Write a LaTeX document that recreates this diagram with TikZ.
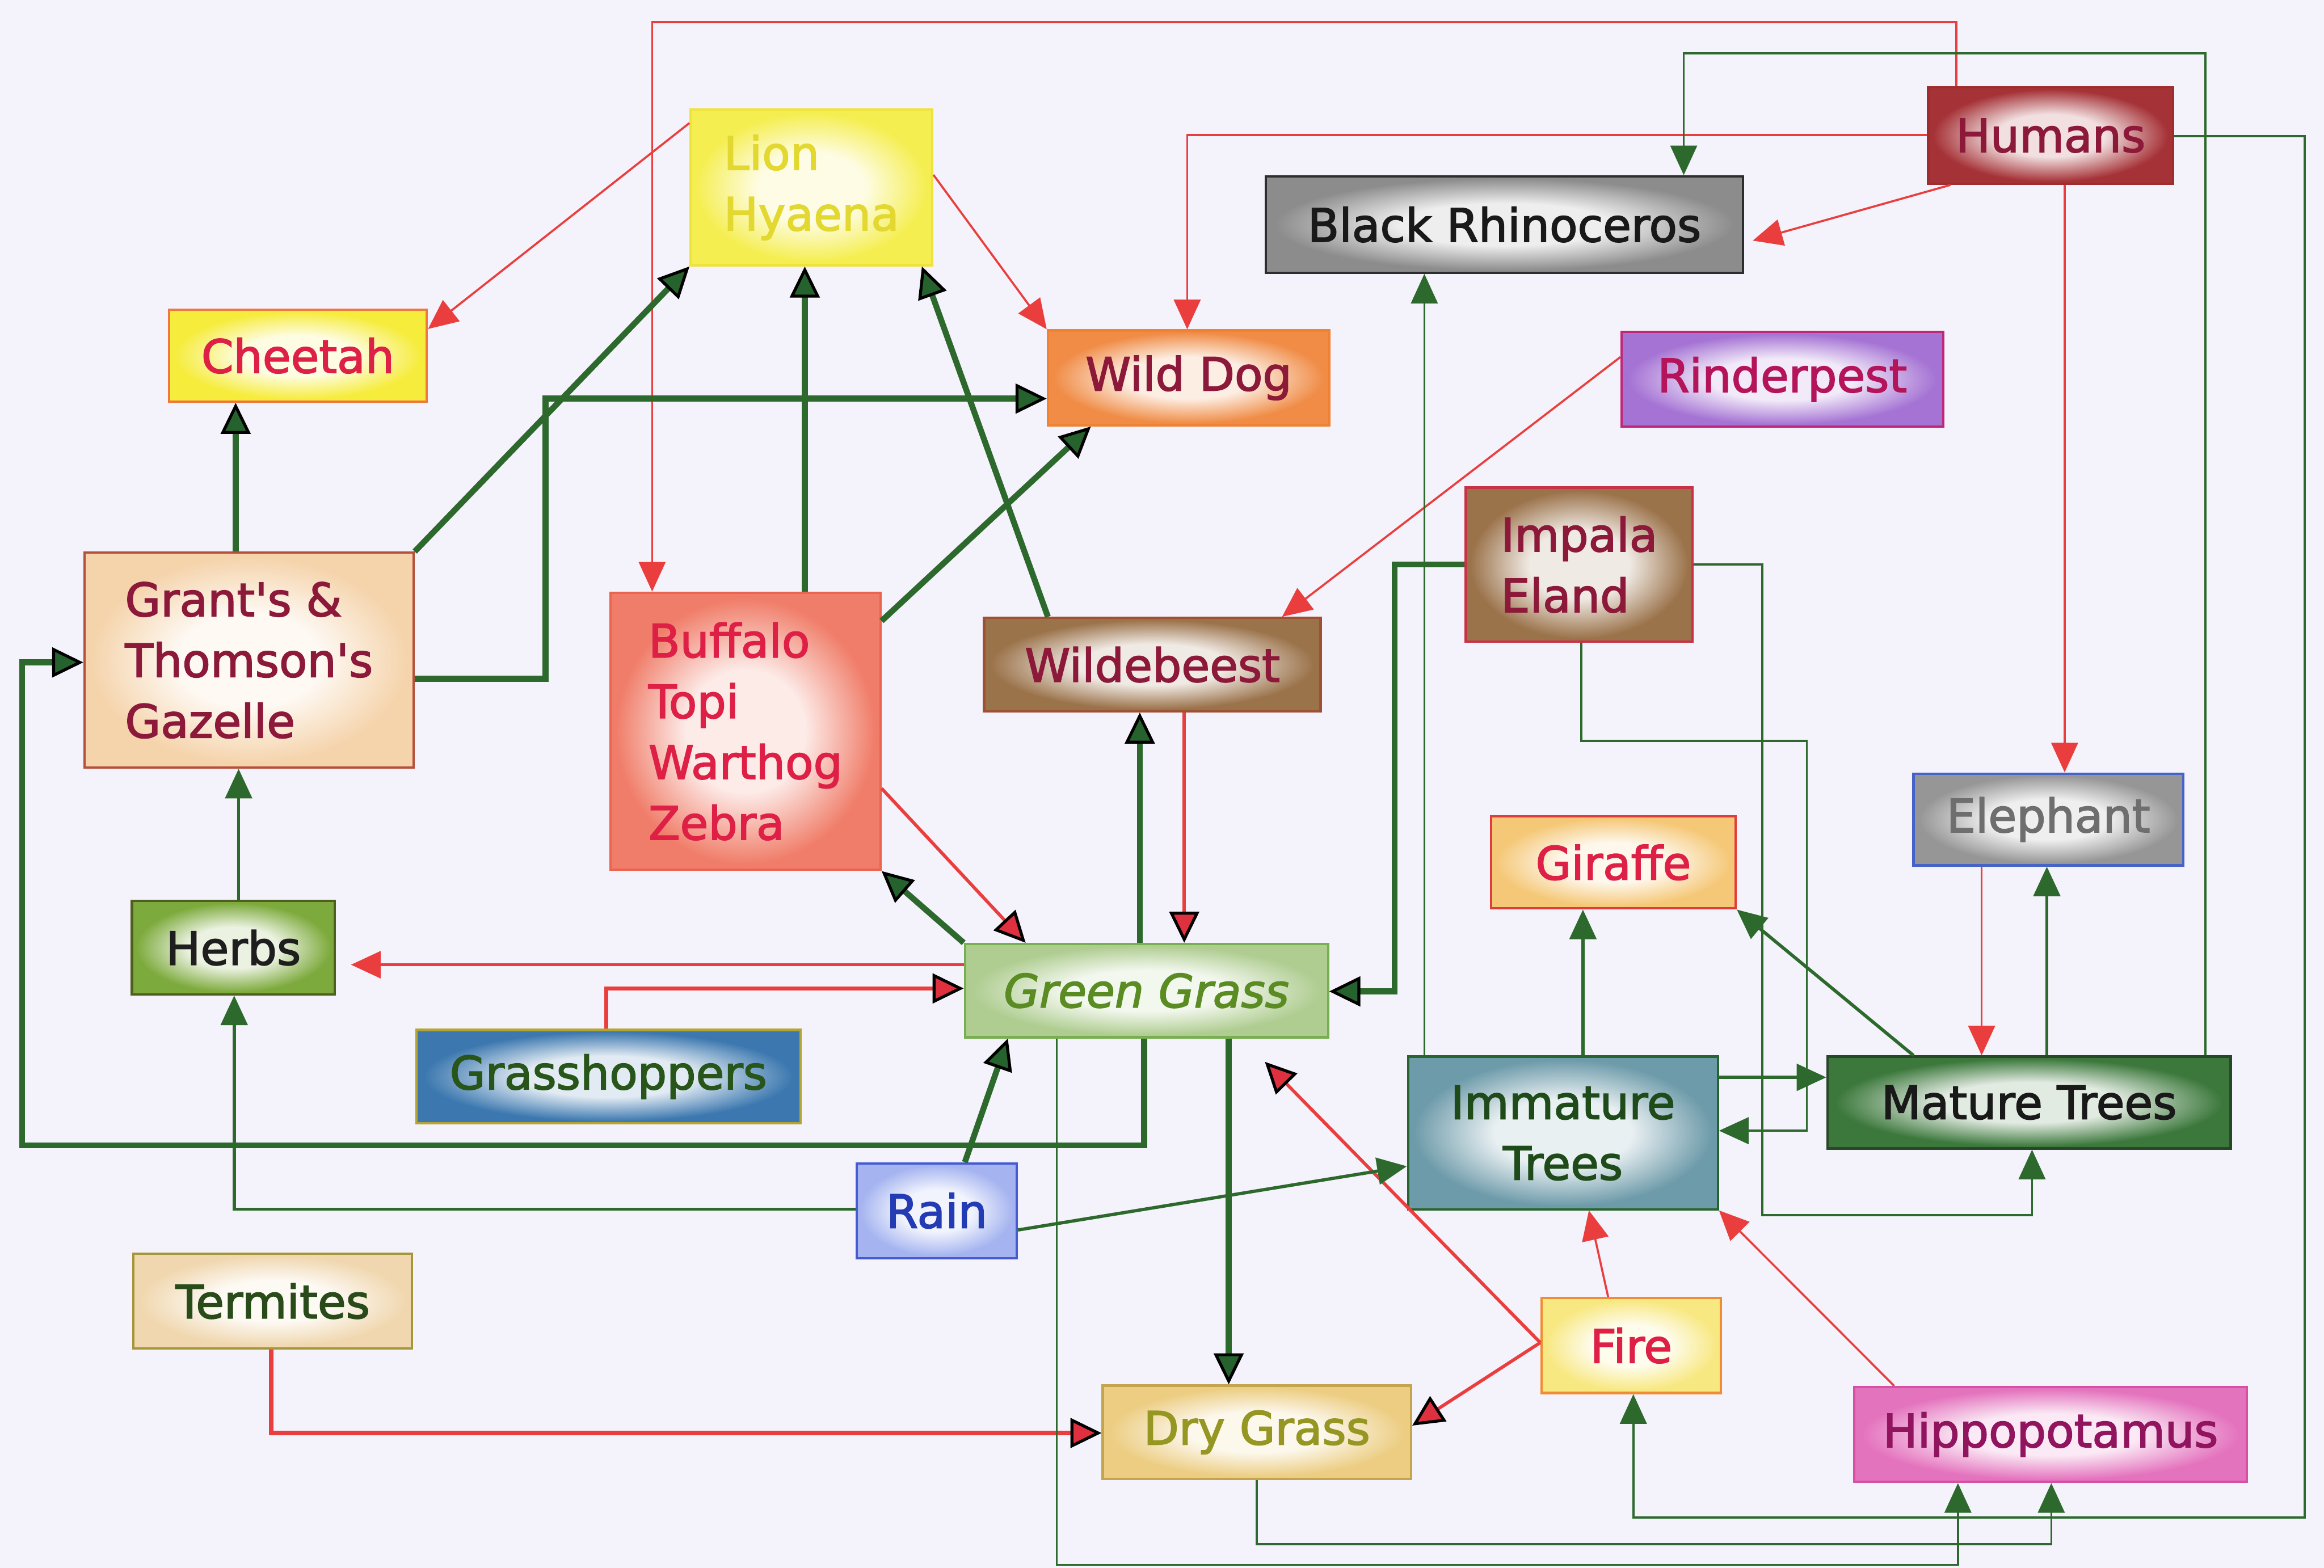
\documentclass[tikz,border=0pt]{standalone}
\usepackage{xcolor}
\usepackage{fontspec}
\usepackage{tikz}
\usetikzlibrary{arrows.meta}

\newfontfamily\boxfont[FakeBold=2.2]{DejaVu Sans}

\definecolor{pagebg}{RGB}{244,242,250}
\definecolor{linegreen}{RGB}{45,105,45}
\definecolor{tipgreen}{RGB}{38,98,45}
\definecolor{linered}{RGB}{234,62,62}
\definecolor{tipred}{RGB}{222,48,62}
\definecolor{maroontext}{RGB}{140,25,58}
\definecolor{crimsontext}{RGB}{222,32,70}
% fills (edge colour of the glow)
\definecolor{lionfill}{RGB}{245,238,80}
\definecolor{cheetahfill}{RGB}{246,236,60}
\definecolor{dogfill}{RGB}{240,140,70}
\definecolor{rhinofill}{RGB}{140,140,140}
\definecolor{humanfill}{RGB}{165,50,55}
\definecolor{rinderfill}{RGB}{165,115,212}
\definecolor{gazellefill}{RGB}{245,212,172}
\definecolor{buffalofill}{RGB}{240,125,105}
\definecolor{beestfill}{RGB}{155,115,75}
\definecolor{giraffefill}{RGB}{245,200,120}
\definecolor{elephantfill}{RGB}{150,150,150}
\definecolor{herbfill}{RGB}{125,170,60}
\definecolor{grassfill}{RGB}{175,205,145}
\definecolor{hopperfill}{RGB}{60,120,175}
\definecolor{youngfill}{RGB}{110,155,170}
\definecolor{maturefill}{RGB}{60,120,60}
\definecolor{rainfill}{RGB}{165,180,240}
\definecolor{termitefill}{RGB}{240,215,175}
\definecolor{firefill}{RGB}{248,232,130}
\definecolor{dryfill}{RGB}{236,205,130}
\definecolor{hippofill}{RGB}{228,115,190}

\pgfdeclareradialshading[glowin,glowout]{glow}{\pgfpoint{0bp}{0bp}}{%
  color(0bp)=(glowin); color(11bp)=(glowin); color(24bp)=(glowout); color(50bp)=(glowout)}

\tikzset{
  box/.style={rectangle, line width=0.8pt, inner sep=1pt,
    font=\boxfont\fontsize{15.5}{20.5}\selectfont},
  glow/.style={/utils/exec={\colorlet{glowout}{#1}\colorlet{glowin}{white!85!#1}},
    shade, shading=glow},
  gthick/.style={draw=linegreen, line width=2pt},
  gmid/.style={draw=linegreen, line width=1.1pt},
  gthin/.style={draw=linegreen, line width=0.7pt},
  rthin/.style={draw=linered, line width=0.7pt},
  rmid/.style={draw=linered, line width=1.1pt},
  rthick/.style={draw=linered, line width=1.4pt},
  arrplain/.style={-{Triangle[length=10pt,width=9pt]}},
  arrgreen/.style={-{Triangle[length=10.5pt,width=10pt,fill=tipgreen,color=black,line width=1pt]}},
  arrred/.style={-{Triangle[length=10.5pt,width=10pt,fill=tipred,color=black,line width=1pt]}},
}

\begin{document}
\begin{tikzpicture}[x=0.5pt,y=0.5pt,yscale=-1,xscale=1]
%page
\fill [pagebg] (0,0) rectangle (1568,1058);
\useasboundingbox (0,0) rectangle (1568,1058);

%Box: Lion, Hyaena
\node [box, draw={rgb,255:red,240;green,226;blue,60}, text={rgb,255:red,226;green,216;blue,48}, glow=lionfill, minimum width=81.5pt, minimum height=52.5pt, align=left] (lion) at (547.5,126.5) {Lion\\Hyaena};
%Box: Cheetah
\node [box, draw={rgb,255:red,240;green,120;blue,60}, text=crimsontext, glow=cheetahfill, minimum width=87pt, minimum height=31pt] (cheetah) at (201,240) {Cheetah};
%Box: Wild Dog
\node [box, draw={rgb,255:red,240;green,130;blue,50}, text=maroontext, glow=dogfill, minimum width=95pt, minimum height=32pt] (wilddog) at (802,255) {Wild Dog};
%Box: Black Rhinoceros
\node [box, draw={rgb,255:red,45;green,45;blue,45}, text={rgb,255:red,25;green,25;blue,25}, glow=rhinofill, minimum width=161pt, minimum height=32.5pt] (rhino) at (1015,151.5) {Black Rhinoceros};
%Box: Humans
\node [box, draw={rgb,255:red,160;green,45;blue,45}, text=maroontext, glow=humanfill, minimum width=82.5pt, minimum height=32.5pt] (humans) at (1383.5,91.5) {Humans};
%Box: Rinderpest
\node [box, draw={rgb,255:red,190;green,40;blue,120}, text={rgb,255:red,180;green,20;blue,90}, glow=rinderfill, minimum width=108.5pt, minimum height=32pt] (rinderpest) at (1202.5,256) {Rinderpest};
%Box: Gazelle
\node [box, draw={rgb,255:red,180;green,80;blue,60}, text=maroontext, glow=gazellefill, minimum width=111pt, minimum height=72.5pt, align=left] (gazelle) at (168,445.5) {Grant's \&\\Thomson's\\Gazelle};
%Box: Buffalo, Topi, Warthog, Zebra
\node [box, draw={rgb,255:red,235;green,100;blue,80}, text=crimsontext, glow=buffalofill, minimum width=91pt, minimum height=93.5pt, align=left] (buffalo) at (503,493.5) {Buffalo\\Topi\\Warthog\\Zebra};
%Box: Wildebeest
\node [box, draw={rgb,255:red,160;green,80;blue,50}, text=maroontext, glow=beestfill, minimum width=113.5pt, minimum height=31.5pt] (wildebeest) at (777.5,448.5) {Wildebeest};
%Box: Impala, Eland
\node [box, draw={rgb,255:red,200;green,50;blue,70}, text=maroontext, glow=beestfill, minimum width=76.5pt, minimum height=52pt, align=left] (impala) at (1065.5,381) {Impala\\Eland};
%Box: Giraffe
\node [box, draw={rgb,255:red,225;green,60;blue,60}, text=crimsontext, glow=giraffefill, minimum width=82.5pt, minimum height=31pt] (giraffe) at (1088.5,582) {Giraffe};
%Box: Elephant
\node [box, draw={rgb,255:red,70;green,100;blue,200}, text={rgb,255:red,110;green,110;blue,110}, glow=elephantfill, minimum width=91pt, minimum height=31pt] (elephant) at (1382,553) {Elephant};
%Box: Herbs
\node [box, draw={rgb,255:red,80;green,95;blue,30}, text={rgb,255:red,30;green,30;blue,30}, glow=herbfill, minimum width=68.5pt, minimum height=31.5pt] (herbs) at (157.5,639.5) {Herbs};
%Box: Green Grass
\node [box, draw={rgb,255:red,120;green,175;blue,80}, text={rgb,255:red,90;green,140;blue,35}, glow=grassfill, minimum width=122.5pt, minimum height=31.5pt, font=\boxfont\itshape\fontsize{15.5}{20.5}\selectfont] (grass) at (773.5,668.5) {Green Grass};
%Box: Grasshoppers
\node [box, draw={rgb,255:red,180;green,165;blue,50}, text={rgb,255:red,40;green,85;blue,25}, glow=hopperfill, minimum width=129.5pt, minimum height=31.5pt] (hoppers) at (410.5,726.5) {Grasshoppers};
%Box: Immature Trees
\node [box, draw={rgb,255:red,40;green,100;blue,45}, text={rgb,255:red,30;green,75;blue,25}, glow=youngfill, minimum width=104.5pt, minimum height=51.5pt, align=center] (immature) at (1054.5,764.5) {Immature\\Trees};
%Box: Mature Trees
\node [box, draw={rgb,255:red,40;green,70;blue,40}, text={rgb,255:red,25;green,25;blue,25}, glow=maturefill, minimum width=136pt, minimum height=31pt] (mature) at (1369,744) {Mature Trees};
%Box: Rain
\node [box, draw={rgb,255:red,70;green,90;blue,210}, text={rgb,255:red,35;green,60;blue,180}, glow=rainfill, minimum width=54pt, minimum height=32pt] (rain) at (632,817) {Rain};
%Box: Termites
\node [box, draw={rgb,255:red,165;green,150;blue,60}, text={rgb,255:red,40;green,75;blue,25}, glow=termitefill, minimum width=94pt, minimum height=32pt] (termites) at (184,878) {Termites};
%Box: Fire
\node [box, draw={rgb,255:red,240;green,140;blue,50}, text=crimsontext, glow=firefill, minimum width=60.5pt, minimum height=32pt] (fire) at (1100.5,908) {Fire};
%Box: Dry Grass
\node [box, draw={rgb,255:red,195;green,165;blue,80}, text={rgb,255:red,150;green,150;blue,35}, glow=dryfill, minimum width=104pt, minimum height=31.5pt] (drygrass) at (848,966.5) {Dry Grass};
%Box: Hippopotamus
\node [box, draw={rgb,255:red,215;green,80;blue,165}, text={rgb,255:red,145;green,20;blue,95}, glow=hippofill, minimum width=132.5pt, minimum height=32pt] (hippo) at (1383.5,968) {Hippopotamus};

%Red links
\draw [rthin, arrplain] (lion.west |- 0,83) -- (cheetah.east |- 0,222);
\draw [rthin, arrplain] (lion.east |- 0,118) -- (wilddog.north west);
\draw [rthin, arrplain] (humans.north -| 1320,0) |- (440,15) -- (buffalo.north -| 440,0);
\draw [rthin, arrplain] (humans.west |- 0,91) -| (wilddog.north -| 801,0);
\draw [rthin, arrplain, shorten >=3pt] (humans.south -| 1316,0) -- (rhino.east |- 0,164);
\draw [rthin, arrplain] (humans.south -| 1393,0) -- (elephant.north -| 1393,0);
\draw [rthin, arrplain] (rinderpest.west |- 0,241) -- (wildebeest.north -| 865,0);
\draw [rmid, arrred] (wildebeest.south -| 799,0) -- (grass.north -| 799,0);
\draw [rmid, arrred] (buffalo.east |- 0,532) -- (grass.north -| 692,0);
\draw [rmid, arrplain, shorten >=5pt] (grass.west |- 0,651) -- (herbs.east |- 0,651);
\draw [rthick, arrred] (hoppers.north -| 409,0) |- (grass.west |- 0,667);
\draw [rthick, arrred] (termites.south -| 183,0) |- (drygrass.west |- 0,967);
\draw [rmid, arrred] (fire.west |- 0,906) -- (drygrass.east |- 0,962);
\draw [rmid, arrred, shorten >=11pt] (fire.west |- 0,906) -- (grass.south -| 838,0);
\draw [rthin, arrplain] (fire.north -| 1085,0) -- (immature.south -| 1072,0);
\draw [rthin, arrplain] (hippo.north -| 1278,0) -- (immature.south east);
\draw [rthin, arrplain] (elephant.south -| 1337,0) -- (mature.north -| 1337,0);

%Green links
\draw [gthick, arrgreen] (gazelle.north -| 159,0) -- (cheetah.south -| 159,0);
\draw [gthick, arrgreen] (gazelle.north east) -- (lion.south west);
\draw [gthick, arrgreen] (gazelle.east |- 0,458) -| (368,269) -- (wilddog.west |- 0,269);
\draw [gthick, arrgreen] (buffalo.north -| 543,0) -- (lion.south -| 543,0);
\draw [gthick, arrgreen] (buffalo.east |- 0,419) -- (wilddog.south -| 736,0);
\draw [gthick, arrgreen] (wildebeest.north -| 707,0) -- (lion.south -| 622,0);
\draw [gthick, arrgreen] (grass.north -| 769,0) -- (wildebeest.south -| 769,0);
\draw [gthick, arrgreen] (grass.north west) -- (buffalo.south east);
\draw [gmid, arrplain] (herbs.north -| 161,0) -- (gazelle.south -| 161,0);
\draw [gthick, arrgreen] (grass.south -| 772,0) |- (15,773) |- (gazelle.west |- 0,447);
\draw [gmid, arrplain] (rain.west |- 0,816) -| (herbs.south -| 158,0);
\draw [gthick, arrgreen] (rain.north -| 651,0) -- (grass.south -| 680,0);
\draw [gmid, arrplain] (rain.east |- 0,830) -- (immature.west |- 0,787);
\draw [gthick, arrgreen] (grass.south -| 829,0) -- (drygrass.north -| 829,0);
\draw [gthin, arrplain] (grass.south -| 713,0) |- (1321,1056) -- (hippo.south -| 1321,0);
\draw [gthin, arrplain] (drygrass.south -| 848,0) |- (1384,1042) -- (hippo.south -| 1384,0);
\draw [gthin, arrplain] (humans.east |- 0,92) -| (1555,1024) -| (fire.south -| 1102,0);
\draw [gthin, arrplain] (mature.north -| 1488,0) |- (1136,36) -- (rhino.north -| 1136,0);
\draw [gthin, arrplain] (immature.north -| 961,0) -- (rhino.south -| 961,0);
\draw [gthick, arrgreen] (impala.west |- 0,381) -| (941,669) -- (grass.east |- 0,669);
\draw [gthin, arrplain] (impala.east |- 0,381) -| (1189,820) -| (mature.south -| 1371,0);
\draw [gthin, arrplain] (impala.south -| 1067,0) |- (1219,500) |- (immature.east |- 0,763);
\draw [gmid, arrplain] (immature.east |- 0,727) -- (mature.west |- 0,727);
\draw [gmid, arrplain] (immature.north -| 1068,0) -- (giraffe.south -| 1068,0);
\draw [gmid, arrplain] (mature.north -| 1291,0) -- (giraffe.south east);
\draw [gmid, arrplain] (mature.north -| 1381,0) -- (elephant.south -| 1381,0);
\end{tikzpicture}
\end{document}
